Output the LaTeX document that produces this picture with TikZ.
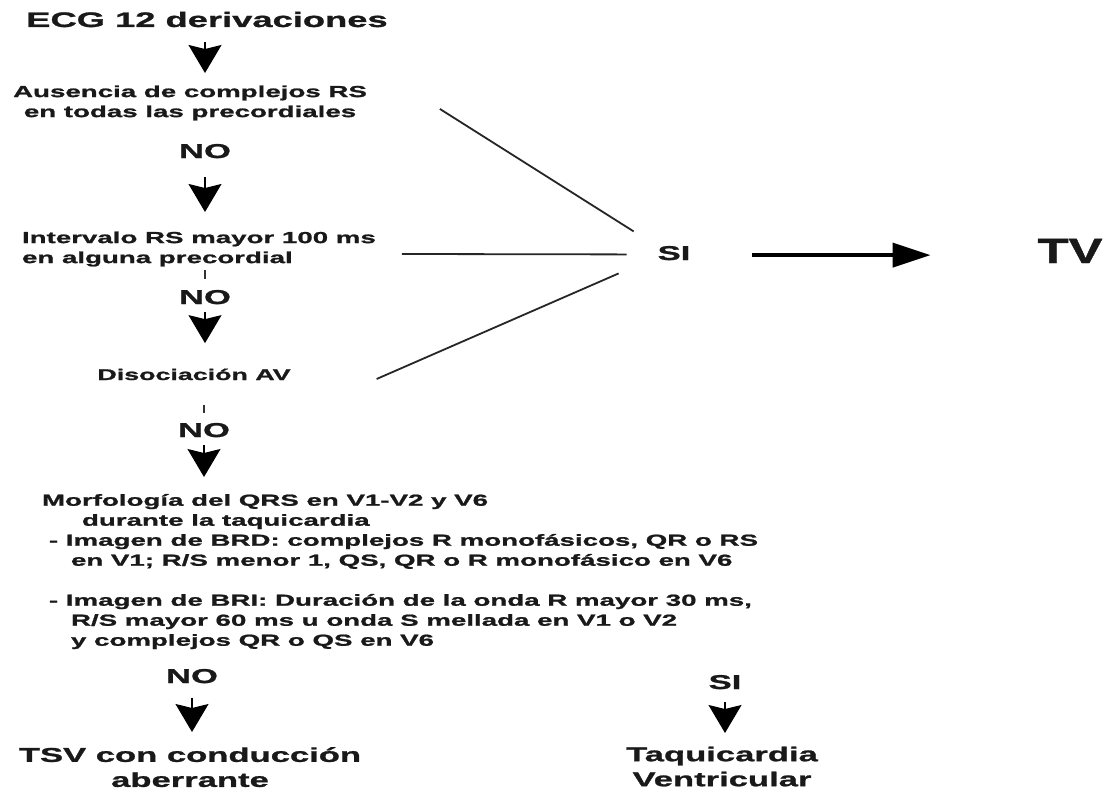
\documentclass[tikz,border=0pt]{standalone}
\usepackage{fontspec}
\newfontfamily\wf{Liberation Sans}[FakeStretch=1.73,FakeBold=1.2]
\newfontfamily\tvfont{Liberation Sans}[FakeStretch=1.45,FakeBold=1.2]
\usetikzlibrary{arrows.meta,calc}
\tikzset{
  txt/.style={inner sep=0pt, outer sep=0pt, text=black!90},
  t16/.style={txt, font=\wf\bfseries\fontsize{16}{20}\selectfont},
  t155/.style={txt, font=\wf\bfseries\fontsize{15.5}{20}\selectfont},
  t20/.style={txt, font=\wf\bfseries\fontsize{20}{25}\selectfont},
  t21/.style={txt, font=\wf\bfseries\fontsize{21}{25}\selectfont},
  darr/.style={draw=black, line width=1.3pt, -{Stealth[length=28pt,width=33pt,inset=4pt]}},
  tickline/.style={draw=black!80, line width=1.3pt},
  link/.style={draw=black!85, line width=1.8pt},
  bigarr/.style={draw=black, line width=4pt, -{Triangle[length=38pt,width=24pt]}},
}
\begin{document}
\begin{tikzpicture}[x=1pt,y=-1pt]
\useasboundingbox[fill=white] (0,0) rectangle (1107,792);

% left column
\node[t21, anchor=base] (ecg) at (207,27) {ECG 12 derivaciones};
\node[t16, anchor=north, align=center] (aus) at (190,85.5) {Ausencia de complejos RS\\en todas las precordiales};
\node[t20, anchor=base] (no1) at (205,158) {NO};
\node[t16, anchor=north west, align=left] (int) at (22,231.5) {Intervalo RS mayor 100 ms\\en alguna precordial};
\node[t20, anchor=base] (no2) at (205,304) {NO};
\node[t155, anchor=base] (dis) at (194,380) {Disociación AV};
\node[t20, anchor=base] (no3) at (204,437) {NO};
\node[t16, anchor=north west, align=left] (morph) at (42,494) {Morfología del QRS en V1-V2 y V6\\
\hspace*{40pt}durante la taquicardia\\
\hspace*{7pt}- Imagen de BRD: complejos R monofásicos, QR o RS\\
\hspace*{29pt}en V1; R/S menor 1, QS, QR o R monofásico en V6\\[20pt]
\hspace*{7pt}- Imagen de BRI: Duración de la onda R mayor 30 ms,\\
\hspace*{29pt}R/S mayor 60 ms u onda S mellada en V1 o V2\\
\hspace*{29pt}y complejos QR o QS en V6};
\node[t20, anchor=base] (no4) at (192,683) {NO};
\node[t20, anchor=north, align=center] (tsv) at (190,747.2) {TSV con conducción\\aberrante};
\node[t20, anchor=base] (si2) at (725,689) {SI};
\node[t20, anchor=north, align=center] (tq) at (722,746.7) {Taquicardia\\Ventricular};

% right part
\node[t20, anchor=base] (si) at (674,260) {SI};
\node[txt, anchor=base, font=\tvfont\bfseries\fontsize{35}{40}\selectfont] (tv) at (1070,263) {TV};

% vertical arrows
\draw[darr, shorten <=14.7pt, shorten >=12.5pt] (ecg.south -| no1) -- (no1 |- aus.north);
\draw[darr, shorten <=18.7pt, shorten >=19.5pt] (no1.south) -- (no1.south |- int.north);
\draw[tickline, shorten <=3.6pt, shorten >=11.4pt] (int.south -| no2) -- (no2.north);
\draw[darr, shorten <=7.7pt, shorten >=25.5pt] (no2.south) -- (no2.south |- dis.north);
\draw[tickline, shorten <=24.8pt, shorten >=10.4pt] (dis.south -| no3) -- (no3.north);
\draw[darr, shorten <=7.7pt, shorten >=17pt] (no3.south) -- (no3.south |- morph.north);
\draw[darr, shorten <=14.7pt, shorten >=15.2pt] (no4.south) -- (no4.south |- tsv.north);
\draw[darr, shorten <=13pt, shorten >=13.7pt] (si2.south) -- (si2.south |- tq.north);

% links to SI
\coordinate (a1) at ($(aus.east)+(73,6)$);
\coordinate (b1) at ($(si.west)+(-24,-21.7)$);
\coordinate (a2) at ($(int.east)+(26,5)$);
\coordinate (b2) at ($(si.west)+(-31,1.3)$);
\coordinate (a3) at ($(dis.east)+(86,4.6)$);
\coordinate (b3) at ($(si.west)+(-39,20.3)$);
\draw[link] (a1) -- (b1);
\draw[link] (a2) -- (b2);
\draw[link] (a3) -- (b3);

% big arrow
\draw[bigarr, shorten <=62pt, shorten >=107pt] ([yshift=-2pt]si.east) -- ([yshift=-2pt]si.east -| tv.west);
\end{tikzpicture}
\end{document}
